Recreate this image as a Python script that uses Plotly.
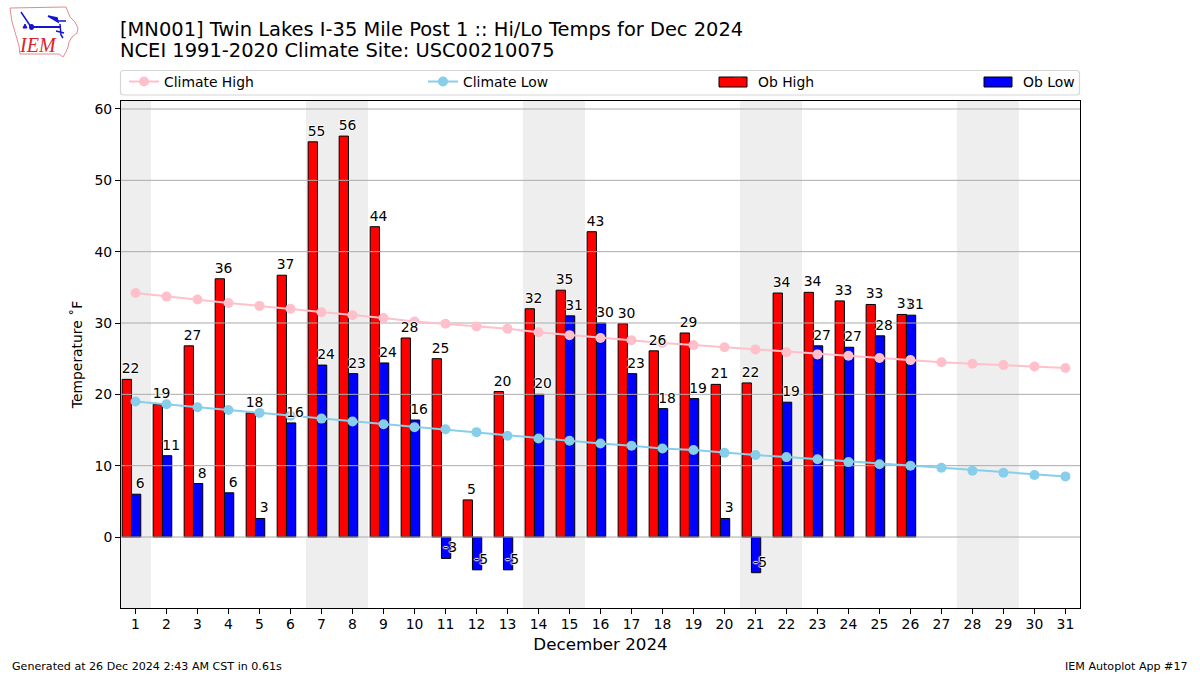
import plotly.graph_objects as go

days = list(range(1, 32))
obs_days = list(range(1, 27))
climate_high = [34.2, 33.7, 33.3, 32.8, 32.4, 32.0, 31.5, 31.1, 30.7, 30.2, 29.9, 29.5, 29.2, 28.7, 28.3, 27.9,
                27.6, 27.2, 26.9, 26.6, 26.3, 25.9, 25.6, 25.4, 25.1, 24.8, 24.5, 24.3, 24.1, 23.9, 23.7]
climate_low = [19.0, 18.6, 18.2, 17.8, 17.4, 17.0, 16.6, 16.2, 15.8, 15.4, 15.1, 14.7, 14.2, 13.8, 13.5, 13.1,
               12.8, 12.4, 12.2, 11.8, 11.5, 11.2, 10.9, 10.5, 10.2, 10.0, 9.7, 9.3, 9.0, 8.7, 8.5]
ob_high = [22.1, 18.6, 26.8, 36.2, 17.4, 36.7, 55.4, 56.2, 43.5, 27.9, 25.0, 5.2, 20.4, 32.0, 34.6, 42.8,
           29.9, 26.1, 28.6, 21.4, 21.6, 34.2, 34.3, 33.1, 32.6, 31.2]
ob_low = [6.0, 11.4, 7.5, 6.2, 2.6, 16.0, 24.1, 22.9, 24.4, 16.4, -3.0, -4.6, -4.6, 20.0, 31.0, 30.0,
          22.9, 18.0, 19.4, 2.6, -5.0, 18.9, 26.8, 26.6, 28.2, 31.1]
high_labels = [22, 19, 27, 36, 18, 37, 55, 56, 44, 28, 25, 5, 20, 32, 35, 43, 30, 26, 29, 21, 22, 34, 34, 33, 33, 31]
low_labels = [6, 11, 8, 6, 3, 16, 24, 23, 24, 16, -3, -5, -5, 20, 31, 30, 23, 18, 19, 3, -5, 19, 27, 27, 28, 31]
weekend_spans = [(0.5, 1.5), (6.5, 8.5), (13.5, 15.5), (20.5, 22.5), (27.5, 29.5)]
y_ticks = [0, 10, 20, 30, 40, 50, 60]
X_RANGE = [0.532, 31.47]
Y_RANGE = [-9.95, 61.12]
FONT = "DejaVu Sans"
HALO = "-1px 0 1px #fff, 1px 0 1px #fff, 0 -1px 1px #fff, 0 1px 1px #fff"
GRID = "#ababab"
W, H = 1200, 675
ML, MR, MT, MB = 121, 120, 101, 67
PW, PH = W - ML - MR, H - MT - MB


def px(x):
    return (x - ML) / PW


def py(y):
    return (H - MB - y) / PH


fig = go.Figure()
for name, vals, color, offset in [("Ob High", ob_high, "red", -0.43), ("Ob Low", ob_low, "blue", -0.13)]:
    fig.add_trace(go.Bar(x=obs_days, y=vals, name=name, width=0.3, offset=offset, showlegend=False,
                         marker=dict(color=color, line=dict(color="black", width=1))))
# grid lines sit above the bars in the reference
for v in y_ticks:
    fig.add_trace(go.Scatter(x=X_RANGE, y=[v, v], mode="lines", line=dict(color=GRID, width=1),
                             showlegend=False, hoverinfo="skip"))
fig.add_trace(go.Scatter(x=days, y=climate_high, name="Climate High", mode="lines+markers", legend="legend",
                         line=dict(color="pink", width=2), marker=dict(color="pink", size=10)))
fig.add_trace(go.Scatter(x=days, y=climate_low, name="Climate Low", mode="lines+markers", legend="legend2",
                         line=dict(color="skyblue", width=2), marker=dict(color="skyblue", size=10)))
for vals, labels, shift in [(ob_high, high_labels, -0.16), (ob_low, low_labels, 0.15)]:
    fig.add_trace(go.Scatter(x=[d + shift for d in obs_days], y=[v + 0.35 for v in vals], text=labels,
                             mode="text", textposition="top center", showlegend=False, hoverinfo="skip",
                             textfont=dict(family=FONT, size=13.9, color="black", shadow=HALO)))
# legend entries for the bars: the wide swatch behind them is a shape
fig.add_trace(go.Scatter(x=[None], y=[None], name="Ob High", mode="markers", legend="legend3",
                         marker=dict(color="red", size=8, symbol="square")))
fig.add_trace(go.Scatter(x=[None], y=[None], name="Ob Low", mode="markers", legend="legend4",
                         marker=dict(color="blue", size=8, symbol="square")))

shapes = [dict(type="rect", xref="x", yref="paper", x0=a, x1=b, y0=0, y1=1, layer="below",
               line_width=0, fillcolor="#eeeeee") for a, b in weekend_spans]


def path(pts, closed=False, **kw):
    d = "M" + "L".join(f"{px(a):.5f},{py(b):.5f}" for a, b in pts) + ("Z" if closed else "")
    return dict(type="path", xref="paper", yref="paper", path=d, **kw)


# legend frame with rounded corners
L, R, T, B, r = 120.5, 1079.5, 70.5, 95, 3
frame = ("M{},{}L{},{}Q{},{} {},{}L{},{}Q{},{} {},{}L{},{}Q{},{} {},{}L{},{}Q{},{} {},{}Z").format(
    px(L + r), py(T), px(R - r), py(T), px(R), py(T), px(R), py(T + r), px(R), py(B - r), px(R), py(B), px(R - r), py(B),
    px(L + r), py(B), px(L), py(B), px(L), py(B - r), px(L), py(T + r), px(L), py(T), px(L + r), py(T))
shapes.append(dict(type="path", xref="paper", yref="paper", path=frame, line=dict(color="#d6d6d6", width=1.2),
                   fillcolor="white"))
for cx, c in [(719, "red"), (984, "blue")]:
    shapes.append(dict(type="rect", xref="paper", yref="paper", x0=px(cx), x1=px(cx + 28), y0=py(87), y1=py(77),
                       line=dict(color="black", width=1), fillcolor=c))


def lg(x):
    return dict(x=px(x), y=py(82), xanchor="left", yanchor="middle", orientation="h", bgcolor="rgba(0,0,0,0)",
                font=dict(family=FONT, size=13.9, color="black"), itemwidth=30, borderwidth=0,
                itemclick=False, itemdoubleclick=False)


# logo outline (Iowa shape) and wind-barb glyph
BLUE = "#1515d0"
shapes.append(path([(10, 8), (66, 7), (68, 12), (70, 17), (75, 22), (78, 28), (77, 33), (72, 37), (69, 42), (68, 47),
                    (66, 52), (63, 57), (59, 54), (20, 54), (19, 46), (15, 32), (12, 22)], closed=True,
                   line=dict(color="#e58a8f", width=1)))
shapes.append(path([(31, 27), (61, 27)], line=dict(color=BLUE, width=2)))
shapes.append(path([(31, 27), (25, 18), (21, 12)], line=dict(color=BLUE, width=1.5)))
shapes.append(path([(48, 16), (57, 18), (58, 22)], closed=True, line=dict(color=BLUE, width=1.5), fillcolor=BLUE))
shapes.append(path([(58, 21), (66, 21)], line=dict(color=BLUE, width=1.5)))
shapes.append(path([(60, 24), (61, 35), (63, 38)], line=dict(color=BLUE, width=1.5)))
shapes.append(path([(56, 31), (64, 33)], line=dict(color=BLUE, width=1.5)))
shapes.append(path([(23, 28), (25, 24), (27, 28)], closed=True, line=dict(color=BLUE, width=1), fillcolor=BLUE))
shapes.append(dict(type="circle", xref="paper", yref="paper", x0=px(29), x1=px(34), y0=py(30), y1=py(24),
                   fillcolor=BLUE, line_width=0))

annotations = [
    dict(text="NCEI 1991-2020 Climate Site: USC00210075", xref="paper", yref="paper", x=px(118), y=py(50.5),
         xanchor="left", yanchor="middle", showarrow=False, font=dict(family=FONT, size=19.46, color="black")),
    dict(text="Generated at 26 Dec 2024 2:43 AM CST in 0.61s", xref="paper", yref="paper", x=px(10), y=py(666),
         xanchor="left", yanchor="middle", showarrow=False, font=dict(family=FONT, size=11.1, color="black")),
    dict(text="IEM Autoplot App #17", xref="paper", yref="paper", x=px(1190), y=py(666), xanchor="right",
         yanchor="middle", showarrow=False, font=dict(family=FONT, size=11.1, color="black")),
    dict(text="<i>IEM</i>", xref="paper", yref="paper", x=px(38), y=py(45), xanchor="center", yanchor="middle",
         showarrow=False, font=dict(family="Liberation Serif", size=20, color="#d8232a")),
]

fig.update_layout(
    width=W, height=H, autosize=False, margin=dict(l=ML, r=MR, t=MT, b=MB, pad=0),
    paper_bgcolor="white", plot_bgcolor="white", barmode="overlay", hovermode=False,
    font=dict(family=FONT, size=13.9, color="black"),
    title=dict(text="[MN001] Twin Lakes I-35 Mile Post 1 :: Hi/Lo Temps for Dec 2024", xref="container", x=120 / W,
               xanchor="left", yref="container", y=1 - 29 / H, yanchor="middle",
               font=dict(family=FONT, size=19.46, color="black")),
    xaxis=dict(range=X_RANGE, tickmode="array", tickvals=days, ticktext=[str(d) for d in days], showgrid=False,
               zeroline=False, ticks="outside", ticklen=5, tickwidth=1, tickcolor="black", showline=True,
               linecolor="black", linewidth=1, mirror=True, tickangle=0, ticklabelstandoff=-2,
               title=dict(text="December 2024", font=dict(family=FONT, size=16.7), standoff=7)),
    yaxis=dict(range=Y_RANGE, tickmode="array", tickvals=y_ticks, showgrid=False, zeroline=False, ticks="outside",
               ticklen=5, tickwidth=1, tickcolor="black", showline=True, linecolor="black", linewidth=1, mirror=True,
               title=dict(text="Temperature ˚F", font=dict(family=FONT, size=13.9), standoff=8)),
    shapes=shapes, annotations=annotations,
    legend=lg(124), legend2=lg(423), legend3=lg(718), legend4=lg(983),
)
fig.write_html("out.html", config=dict(displayModeBar=False), post_script="document.body.style.margin='0';")
